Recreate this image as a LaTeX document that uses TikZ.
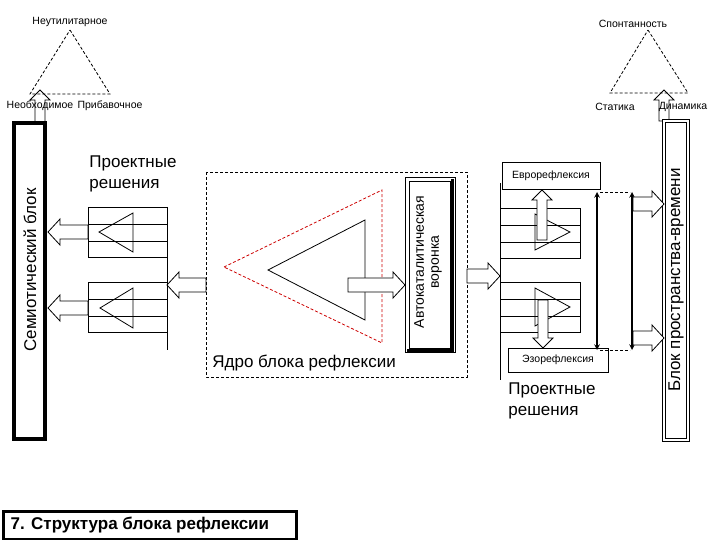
\documentclass[tikz,border=0pt]{standalone}
\usepackage{fontspec}
\setmainfont{Liberation Sans}
\begin{document}
\begin{tikzpicture}[x=1pt,y=-1pt,line width=0.8pt,
  dsh/.style={dashed,dash pattern=on 3pt off 2pt},
  txt/.style={inner sep=0pt,font=\fontsize{10.5}{12}\selectfont},
  big/.style={inner sep=0pt,align=left,font=\fontsize{17}{21}\selectfont}]
\useasboundingbox (0,0) rectangle (720,540);
\newcommand\harr[3]{\pgfmathsetmacro\hb{#2-12*sign(#2-#1)}%
 \draw[fill=white] (#1,#3-7) -- (\hb,#3-7) -- (\hb,#3-13) -- (#2,#3) -- (\hb,#3+13) -- (\hb,#3+7) -- (#1,#3+7) -- cycle;}
\newcommand\varr[3]{\pgfmathsetmacro\hb{#2-10*sign(#2-#1)}%
 \draw[fill=white] (#3-5,#1) -- (#3-5,\hb) -- (#3-10,\hb) -- (#3,#2) -- (#3+10,\hb) -- (#3+5,\hb) -- (#3+5,#1) -- cycle;}
% arrows from blocks to triangles (under texts)
\varr{122}{90}{40}
\varr{121}{90}{664}
% top-left triangle
\draw[dsh] (70,30) -- (110,94) -- (30,94) -- cycle;
\node[txt] (neut) at (70,22) {Неутилитарное};
\node[txt] (neob) at (40,106) {Необходимое};
\node[txt] (prib) at (110,106) {Прибавочное};
% top-right triangle
\draw[dsh] (648,30) -- (688,93) -- (610,93) -- cycle;
\node[txt] (spon) at (633,24) {Спонтанность};
\node[txt] (stat) at (615,107) {Статика};
\node[txt] (dyn) at (683,107) {Динамика};
% blocks
\draw[line width=3.5pt] (14,123) rectangle (45,439);
\node[rotate=90,font=\fontsize{17}{20}\selectfont] (sem) at (30,270) {Семиотический блок};
\draw[double,double distance=2pt,line width=0.8pt] (664,121) rectangle (688,440);
\node[rotate=90,font=\fontsize{17}{20}\selectfont] (bpv) at (676,280) {Блок пространства-времени};
% left project solutions
\node[big,anchor=north west] (pr1) at (89,155) {Проектные\\решения};
\foreach \y in {207,282}{
 \draw (88,\y) rectangle (167,\y+50);
 \draw (88,\y+17) -- (167,\y+17) (88,\y+34) -- (167,\y+34);
}
\draw (99,232) -- (133,213) -- (133,252) -- cycle;
\draw (100,308) -- (133,288) -- (133,328) -- cycle;
\draw (167,207) -- (167,350);
\harr{88}{48}{232}
\harr{88}{48}{308}
\harr{206}{167}{285}
% core
\draw[dsh] (206,172) rectangle (467,377);
\node[big,anchor=south west] (core) at (212,371) {Ядро блока рефлексии};
\draw[dsh,red!80!black] (224,267) -- (382,190) -- (382,343) -- cycle;
\draw (268,270) -- (365,220) -- (365,320) -- cycle;
\harr{348}{405}{285}
\draw (405,177) rectangle (455,352);
\draw (409,181) rectangle (450,348);
\draw[line width=3pt] (452,179) -- (452,350) -- (407,350);
\node[rotate=90,align=center,font=\fontsize{14}{15}\selectfont] (vor) at (428,262) {Автокаталитическая\\воронка};
\harr{467}{500}{276}
% right section
\draw (500,183) -- (500,380);
\foreach \y in {208,282}{
 \draw (500,\y) rectangle (580,\y+50);
 \draw (500,\y+17) -- (580,\y+17) (500,\y+34) -- (580,\y+34);
}
\draw (535,214) -- (570,232) -- (535,250) -- cycle;
\draw (535,288) -- (570,307) -- (535,326) -- cycle;
\varr{240}{190}{542}
\varr{300}{348}{543}
\node[draw,minimum width=98pt,minimum height=27pt,inner sep=0pt,fill=white,txt] (euro) at (551,176) {Еврорефлексия};
\node[draw,minimum width=100pt,minimum height=24pt,inner sep=0pt,fill=white,txt] (ezo) at (558,360) {Эзорефлексия};
\draw[<->,>=stealth,line width=1.5pt] (597,192) -- (597,350);
\draw[<->,>=stealth,line width=1.5pt] (632,192) -- (632,350);
\draw[dsh] (600,192) -- (630,192) (600,350) -- (630,350);
\harr{633}{664}{204}
\harr{633}{664}{338}
\node[big,anchor=north west] (pr2) at (508,382) {Проектные\\решения};
% caption
\draw[line width=3pt] (3,511) rectangle (296,539);
\node[font=\bfseries\fontsize{17}{20}\selectfont,anchor=west] (cap) at (7,525) {7. Структура блока рефлексии};
\end{tikzpicture}
\end{document}
